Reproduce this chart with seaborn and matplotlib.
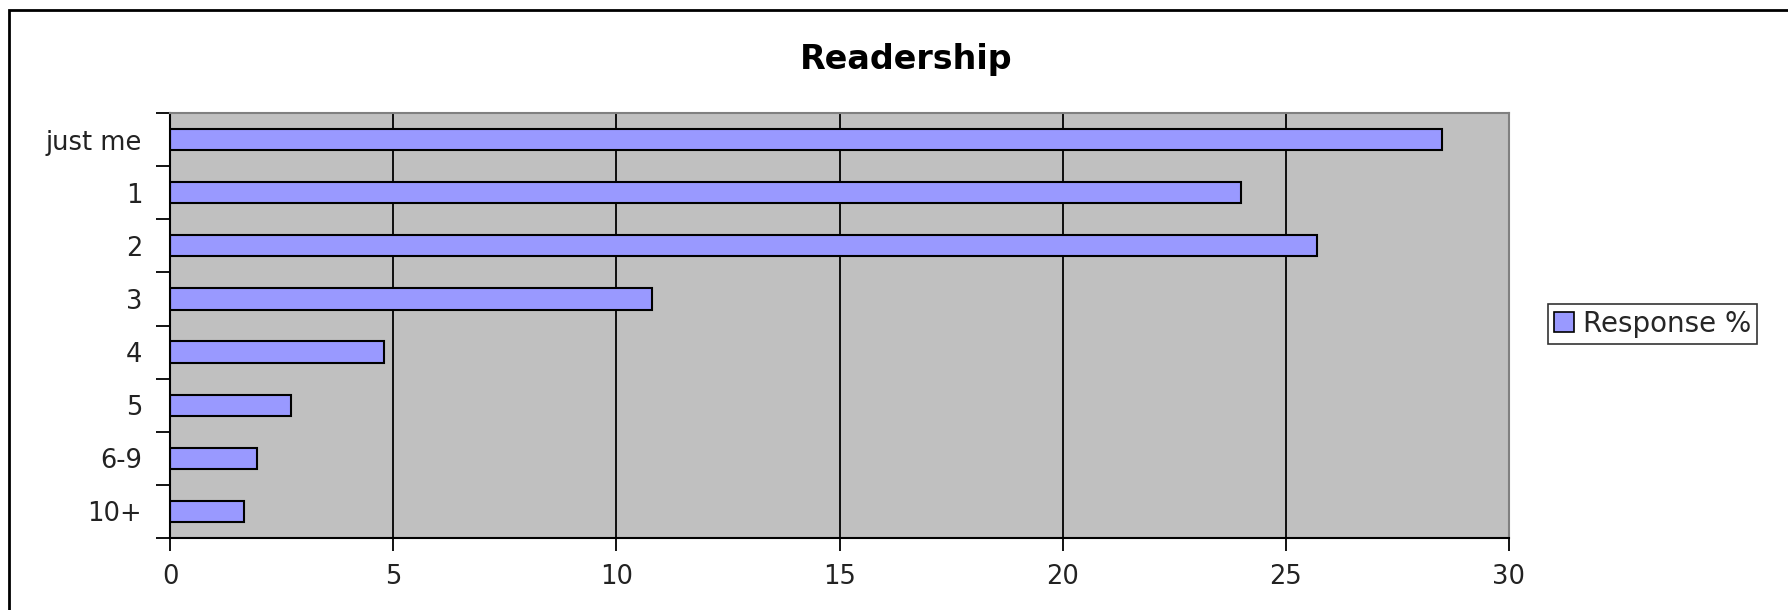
import seaborn as sns
import matplotlib.pyplot as plt
import matplotlib.patches as mpatches
import pandas as pd
import numpy as np

categories = ['just me', '1', '2', '3', '4', '5', '6-9', '10+']
response = [28.5, 24.0, 25.7, 10.8, 4.8, 2.7, 1.95, 1.65]
x_ticks = [0, 5, 10, 15, 20, 25, 30]

df = pd.DataFrame({'readers': categories, 'response': response})

sns.set_style('white')
plt.rcParams['font.family'] = ['DejaVu Sans']

W, H = 1788, 610
fig = plt.figure(figsize=(W / 100, H / 100), dpi=100)
ax = fig.add_axes([170 / W, 1 - 538 / H, (1509 - 170) / W, (538 - 113) / H])

sns.barplot(data=df, x='response', y='readers', orient='h', ax=ax,
            color='#9999FF', edgecolor='black', linewidth=1.5, width=0.4,
            saturation=1)

ax.set_facecolor('#C0C0C0')
ax.set_xlim(0, 30)
ax.set_ylim(len(categories) - 0.5, -0.5)
ax.set_xticks(x_ticks)
ax.set_xlabel('')
ax.set_ylabel('')
ax.xaxis.grid(True, color='black', linewidth=1.3)
ax.set_axisbelow(True)

# category boundary ticks like the spreadsheet chart
ax.set_yticks(np.arange(-0.5, len(categories)), minor=True)
ax.tick_params(axis='y', which='major', length=0, pad=20, labelsize=18.5, labelcolor='#222222')
ax.tick_params(axis='y', which='minor', length=10, width=1.3, color='black', direction='out', left=True)
ax.tick_params(axis='x', which='major', length=9, width=1.3, color='black', direction='out',
               bottom=True, pad=10, labelsize=18.5, labelcolor='#222222')

for side in ['left', 'bottom']:
    ax.spines[side].set_color('black')
    ax.spines[side].set_linewidth(1.5)
for side in ['top', 'right']:
    ax.spines[side].set_color('#808080')
    ax.spines[side].set_linewidth(1.5)

fig.text(906 / W, 1 - 59 / H, 'Readership', ha='center', va='center',
         fontsize=24, fontweight='bold', color='black')

handle = mpatches.Patch(facecolor='#9999FF', edgecolor='black', linewidth=1.2, label='Response %')
leg = fig.legend(handles=[handle], loc='center left', bbox_to_anchor=(1548 / W, 1 - 324 / H),
                 fontsize=20, frameon=True, fancybox=False, handlelength=0.75, handleheight=0.75,
                 handletextpad=0.3, borderpad=0.2, borderaxespad=0)
leg.get_frame().set_edgecolor('black')
leg.get_frame().set_linewidth(1.2)

# outer chart border (only top and left visible in the crop)
fig.add_artist(mpatches.Rectangle((9 / W, -0.1), 1.2, 1 - 10 / H + 0.1,
                                  transform=fig.transFigure, fill=False,
                                  edgecolor='black', linewidth=2))

fig.savefig('out.png', dpi=100)
